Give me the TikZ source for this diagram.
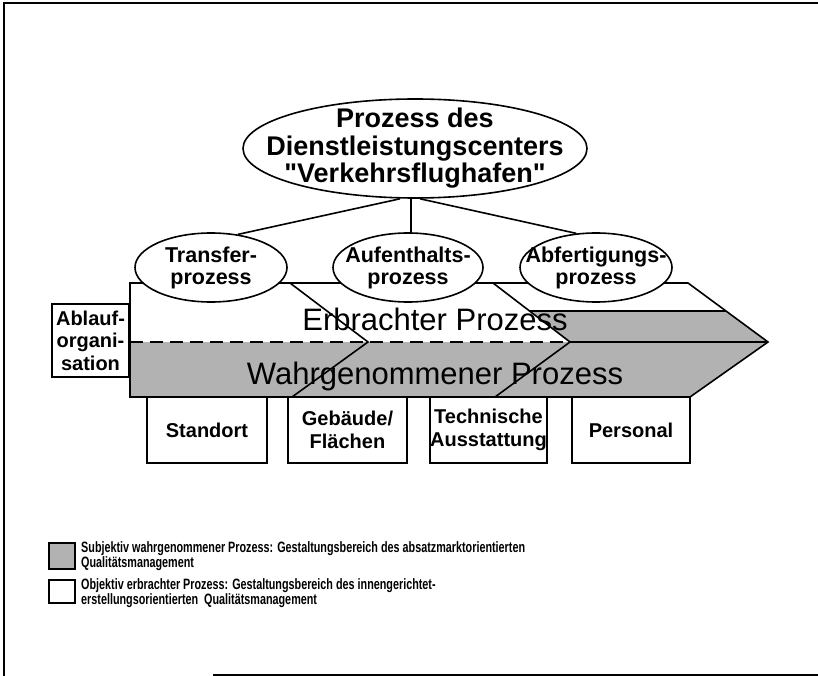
\documentclass[tikz,border=0pt]{standalone}
\usepackage{fontspec}
\setmainfont{Liberation Sans}[Ligatures=TeXOff]
\newfontfamily\legfont{Liberation Sans}[FakeStretch=0.72]
\usetikzlibrary{shapes.geometric}
\begin{document}
\begin{tikzpicture}[x=1pt,y=-1pt, line join=miter,
  ln/.style={line width=1.6pt},
  shadefill/.style={fill=black!30},
  oval/.style={ellipse, draw, ln, fill=white, inner sep=0pt},
  toptext/.style={font=\bfseries\fontsize{27}{27.5}\selectfont, align=center, inner sep=0pt},
  subtext/.style={font=\bfseries\fontsize{21.5}{22}\selectfont, align=center, inner sep=0pt},
  bandtext/.style={font=\fontsize{31}{31}\selectfont, inner sep=0pt, anchor=base},
  boxnode/.style={draw, ln, fill=white, inner sep=0pt, align=center, font=\bfseries\fontsize{20}{22.5}\selectfont},
  legtext/.style={font=\legfont\bfseries\fontsize{15}{14.5}\selectfont, align=left, inner sep=0pt, anchor=base west},
  legbox/.style={draw, line width=1.2pt, minimum width=26pt, inner sep=0pt},
  conn/.style={ln},
]
\useasboundingbox (0,0) rectangle (818,676);
% frame
\draw[line width=2pt] (4,676) -- (4,3) -- (818,3);
\draw[line width=2pt] (213,675) -- (818,675);

% band shading
\fill[shadefill] (130,342) -- (768,342) -- (690,397) -- (130,397) -- cycle;
\fill[shadefill] (529.5,311) -- (726,311) -- (768,342) -- (570,342) -- cycle;
% band outline
\draw[ln] (130,283) -- (688,283) -- (768,342) -- (690,397) -- (130,397) -- cycle;
\draw[ln, dash pattern=on 13pt off 7pt] (130,342) -- (570,342);
\draw[ln] (570,342) -- (768,342);
\draw[ln] (529.5,311) -- (726,311);
% chevrons
\draw[ln] (290,283) -- (368,342) -- (292,397);
\draw[ln] (493,283) -- (570,342) -- (495,397);

% band texts
\node[bandtext] (erb) at (435,330) {Erbrachter Prozess};
\node[bandtext] (wahr) at (435,384) {Wahrgenommener Prozess};

% ellipses
\node[oval, minimum width=344pt, minimum height=99pt] (top) at (415,148.5) {};
\node[toptext] (toptxt) at (top.center) {Prozess des\\Dienstleistungscenters\\"Verkehrsflughafen"};
\node[oval, minimum width=152pt, minimum height=69pt] (trans) at (211,267.5) {};
\node[subtext] (transtxt) at (trans.center) {Transfer-\\prozess};
\node[oval, minimum width=150pt, minimum height=69pt] (aufe) at (408,267.5) {};
\node[subtext] (aufetxt) at (aufe.center) {Aufenthalts-\\prozess};
\node[oval, minimum width=152pt, minimum height=69pt] (abf) at (596,267.5) {};
\node[subtext] (abftxt) at (abf.center) {Abfertigungs-\\prozess};

% connectors
\draw[conn] ([xshift=-15pt]top.south) -- (trans.51);
\draw[conn] ([xshift=-4pt]top.south) -- ([xshift=3pt]aufe.north);
\draw[conn] ([xshift=5pt]top.south) -- (abf.120);

% side box
\node[boxnode, minimum width=77pt, minimum height=73pt] (ablauf) at (90.5,340.5) {Ablauf-\\organi-\\sation};

% bottom boxes
\node[boxnode, minimum width=120pt, minimum height=66pt] (standort) at (207,430) {Standort};
\node[boxnode, minimum width=119pt, minimum height=66pt] (gebaeude) at (347.5,430) {Gebäude/\\Flächen};
\node[boxnode, minimum width=117pt, minimum height=66pt] (technik) at (488.5,430) {Technische\\Ausstattung};
\node[boxnode, minimum width=118pt, minimum height=66pt] (personal) at (631,430) {Personal};

% legend
\node[legbox, shadefill, minimum height=26pt] (lg1) at (62,556) {};
\node[legbox, minimum height=23pt] (lg2) at (62,591.5) {};
\node[legtext] (lt1) at (81,567) {Subjektiv wahrgenommener Prozess: Gestaltungsbereich des absatzmarktorientierten\\Qualitätsmanagement};
\node[legtext] (lt2) at (81,604) {Objektiv erbrachter Prozess: Gestaltungsbereich des innengerichtet-\\erstellungsorientierten\ \ Qualitätsmanagement};
\end{tikzpicture}
\end{document}
